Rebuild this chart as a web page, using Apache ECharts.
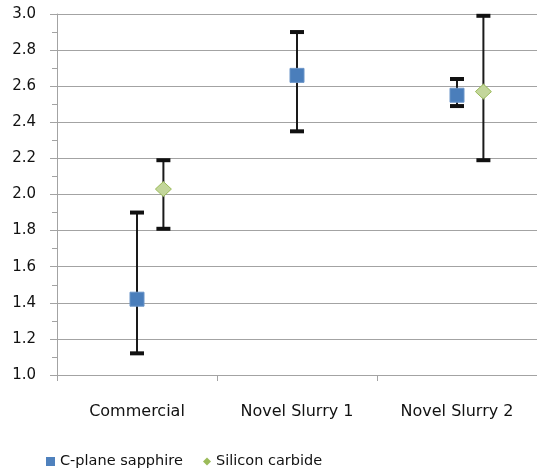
<!DOCTYPE html>
<html>
<head>
<meta charset="utf-8">
<script src="https://cdn.jsdelivr.net/npm/echarts@6/dist/echarts.min.js"></script>
<style>
html,body{margin:0;padding:0;background:#fff;}
#chart{width:537px;height:470px;}
</style>
</head>
<body>
<div id="chart"></div>
<script>
const categories = ['Commercial', 'Novel Slurry 1', 'Novel Slurry 2'];
const sapphireMean = [1.42, 2.66, 2.55];
const sapphireLow  = [1.12, 2.35, 2.49];
const sapphireHigh = [1.90, 2.90, 2.64];
const sicMean = [2.03, null, 2.57];
const sicLow  = [1.81, null, 2.19];
const sicHigh = [2.19, null, 2.99];
const yTicks = [1.0, 1.2, 1.4, 1.6, 1.8, 2.0, 2.2, 2.4, 2.6, 2.8, 3.0];

const FONT = 'DejaVu Sans';
const TEXT = '#111';
const GRID = '#a3a3a3';

function buildData(mean, low, high) {
  const out = [];
  mean.forEach((m, i) => {
    if (m == null) return;
    out.push([i, m, low[i], high[i]]);
  });
  return out;
}

function makeRender(shiftFrac, shape, fill, stroke) {
  return function (params, api) {
    const i = api.value(0);
    const band = api.size([1, 0])[0];
    const dx = band * shiftFrac;
    const pm = api.coord([i, api.value(1)]);
    const pl = api.coord([i, api.value(2)]);
    const ph = api.coord([i, api.value(3)]);
    const x = pm[0] + dx;
    const capW = 14, capH = 4;
    const children = [
      { type: 'line', shape: { x1: x, y1: ph[1], x2: x, y2: pl[1] },
        style: { stroke: '#1a1a1a', lineWidth: 2 } },
      { type: 'rect', shape: { x: x - capW / 2, y: ph[1] - capH / 2, width: capW, height: capH },
        style: { fill: '#111' } },
      { type: 'rect', shape: { x: x - capW / 2, y: pl[1] - capH / 2, width: capW, height: capH },
        style: { fill: '#111' } }
    ];
    if (shape === 'square') {
      const s = 14;
      children.push({ type: 'rect', shape: { x: x - s / 2, y: pm[1] - s / 2, width: s, height: s },
        style: { fill: fill, stroke: stroke, lineWidth: 1 } });
    } else {
      const hw = 8, hh = 7.5;
      children.push({ type: 'polygon',
        shape: { points: [[x, pm[1] - hh], [x + hw, pm[1]], [x, pm[1] + hh], [x - hw, pm[1]]] },
        style: { fill: fill, stroke: stroke, lineWidth: 1 } });
    }
    return { type: 'group', children: children };
  };
}

const chart = echarts.init(document.getElementById('chart'), null, { renderer: 'canvas' });
chart.setOption({
  animation: false,
  backgroundColor: '#fff',
  grid: { left: 57, right: 0, top: 14, bottom: 95 },
  legend: [
    { data: [{ name: 'C-plane sapphire', icon: 'rect', itemStyle: { color: '#4f81bd' } }],
      left: 46, top: 454, itemWidth: 9, itemHeight: 9, padding: 0,
      textStyle: { fontFamily: FONT, fontSize: 14.5, color: TEXT } },
    { data: [{ name: 'Silicon carbide', icon: 'diamond', itemStyle: { color: '#9bbb59' } }],
      left: 203, top: 454, itemWidth: 8, itemHeight: 8, padding: 0,
      textStyle: { fontFamily: FONT, fontSize: 14.5, color: TEXT } }
  ],
  xAxis: {
    type: 'category',
    data: categories,
    boundaryGap: true,
    axisLine: { lineStyle: { color: GRID, width: 1 } },
    axisTick: { show: true, length: 6, lineStyle: { color: GRID } },
    axisLabel: { fontFamily: FONT, fontSize: 16, color: TEXT, margin: 29 },
    splitLine: { show: false }
  },
  yAxis: {
    type: 'value',
    min: yTicks[0],
    max: yTicks[yTicks.length - 1],
    interval: 0.2,
    axisLine: { show: true, lineStyle: { color: GRID, width: 1 } },
    axisTick: { show: true, length: 7, lineStyle: { color: GRID } },
    minorTick: { show: true, splitNumber: 2, length: 5, lineStyle: { color: GRID } },
    axisLabel: { fontFamily: FONT, fontSize: 15, color: TEXT, margin: 21,
      formatter: v => v.toFixed(1) },
    splitLine: { show: true, lineStyle: { color: GRID, width: 1 } }
  },
  series: [
    { name: 'C-plane sapphire', type: 'custom',
      itemStyle: { color: '#4f81bd' },
      encode: { x: 0, y: 1 },
      renderItem: makeRender(0, 'square', '#4a7ebb', '#6b95c8'),
      data: buildData(sapphireMean, sapphireLow, sapphireHigh), z: 3 },
    { name: 'Silicon carbide', type: 'custom',
      itemStyle: { color: '#9bbb59' },
      encode: { x: 0, y: 1 },
      renderItem: makeRender(0.165, 'diamond', '#c3d69b', '#9bbb59'),
      data: buildData(sicMean, sicLow, sicHigh), z: 3 }
  ]
});
</script>
</body>
</html>
